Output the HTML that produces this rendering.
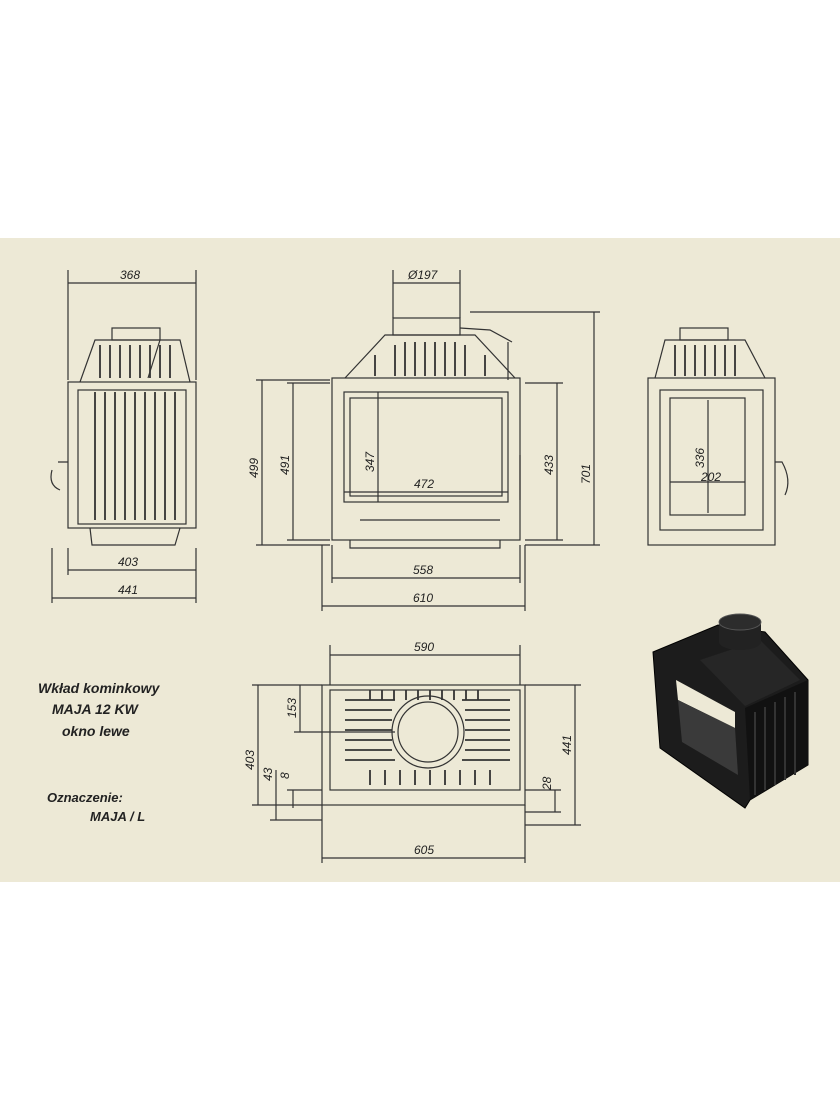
<!DOCTYPE html>
<html><head><meta charset="utf-8"><style>
html,body{margin:0;padding:0;background:#fff;width:840px;height:1120px;overflow:hidden}
svg{display:block}
text{font-family:"Liberation Sans",sans-serif;font-style:italic;fill:#222}
</style></head><body>
<svg width="840" height="1120" viewBox="0 0 840 1120" xmlns="http://www.w3.org/2000/svg">
<rect x="0" y="238" width="840" height="644" fill="#ede9d6"/>
<g stroke="#333" stroke-width="1.2" fill="none">
<!-- LEFT VIEW -->
<rect x="68" y="382" width="128" height="146"/>
<rect x="78" y="390" width="108" height="134"/>
<path d="M80 382 L95 340 L180 340 L190 382"/>
<rect x="112" y="328" width="48" height="12"/>
<g stroke-width="1.8"><path d="M95 392V520M105 392V520M115 392V520M125 392V520M135 392V520M145 392V520M155 392V520M165 392V520M175 392V520"/>
<path d="M100 345V378M110 345V378M120 345V378M130 345V378M140 345V378M150 345V378M160 345V378M170 345V378"/></g>
<path d="M90 528 L92 545 L175 545 L180 528"/>
<path d="M58 462 L68 462 M52 470 Q48 485 60 490"/>
<path d="M160 340 L148 378"/>
<path d="M68 283H196M68 270V380M196 270V380M68 570H196M52 598H196M68 548V575M196 548V603M52 548V603"/>
<!-- FRONT VIEW -->
<rect x="332" y="378" width="188" height="162"/>
<rect x="344" y="392" width="164" height="110"/>
<rect x="350" y="398" width="152" height="98"/>
<path d="M345 378 L385 335 L475 335 L515 378"/>
<rect x="393" y="318" width="67" height="17"/>
<g stroke-width="1.8"><path d="M395 345V376M405 342V376M415 342V376M425 342V376M435 342V376M445 342V376M455 342V376M465 345V376M375 355V376M485 355V376"/></g>
<path d="M460 328 L490 330 L512 342 M508 342V380M520 455V500"/>
<path d="M350 540V548H500V540M360 520H500"/>
<path d="M262 380V545M256 380H330M256 545H330M293 383V540M287 383H330M287 540H330M557 383V540M525 383H563M525 540H563M594 312V545M470 312H600M525 545H600"/>
<path d="M332 578H520M322 606H525M332 545V583M520 545V583M322 545V611M525 545V611M393 283H460M393 270V318M460 270V318"/>
<path d="M378 392V502M344 492H508"/>
<!-- RIGHT VIEW -->
<rect x="648" y="378" width="127" height="167"/>
<rect x="660" y="390" width="103" height="140"/>
<rect x="670" y="398" width="75" height="117"/>
<path d="M655 378 L665 340 L745 340 L765 378"/>
<rect x="680" y="328" width="48" height="12"/>
<g stroke-width="1.8"><path d="M675 345V376M685 345V376M695 345V376M705 345V376M715 345V376M725 345V376M735 345V376"/></g>
<path d="M775 462 L782 462 Q792 480 785 495"/>
<path d="M708 400V513M670 482H745"/>
<!-- PLAN -->
<rect x="322" y="685" width="203" height="120"/>
<rect x="330" y="690" width="190" height="100"/>
<circle cx="428" cy="732" r="36"/>
<circle cx="428" cy="732" r="30"/>
<g stroke-width="1.8"><path d="M345 700H395M345 710H392M345 720H392M345 730H392M345 740H392M345 750H392M345 760H395M462 700H510M465 710H510M465 720H510M465 730H510M465 740H510M465 750H510M462 760H510"/>
<path d="M370 690V700M382 690V700M394 690V700M406 690V700M418 690V700M430 690V700M442 690V700M454 690V700M466 690V700M478 690V700M370 770V785M385 770V785M400 770V785M415 770V785M430 770V785M445 770V785M460 770V785M475 770V785M490 770V785"/></g>
<path d="M330 655H520M330 645V685M520 645V685M322 858H525M322 805V863M525 805V863"/>
<path d="M258 685V805M252 685H322M252 805H322M300 685V732M294 732H395M276 770V820M270 820H322M293 790V808M287 790H322M575 685V825M525 685H581M525 825H581M555 790V812M525 790H561M525 812H561"/>
</g>
<!-- 3D render -->
<path d="M653 652 L718 625 L765 632 L808 680 L808 765 L750 800 L745 808 L660 748 Z" fill="#1c1c1c" stroke="#000"/>
<path d="M745 708 L808 680 L808 765 L750 800 Z" fill="#111"/>
<g stroke="#333" stroke-width="2"><path d="M755 712V795M765 707V790M775 702V785M785 697V780M795 692V775"/></g>
<path d="M676 680 L735 712 L735 728 L678 700 Z" fill="#ede9d6"/>
<path d="M678 700 L735 728 L738 775 L682 742 Z" fill="#3a3a3a"/>
<path d="M700 660 L760 640 L800 680 L745 706 Z" fill="#262626"/>
<rect x="719" y="622" width="42" height="20" fill="#222"/>
<ellipse cx="740" cy="642" rx="21" ry="8" fill="#222"/>
<ellipse cx="740" cy="622" rx="21" ry="8" fill="#2c2c2c" stroke="#555"/>
<g fill="#222" font-size="12">
<text x="120" y="279">368</text>
<text x="408" y="279">Ø197</text>
<text x="118" y="566">403</text>
<text x="118" y="594">441</text>
<text x="413" y="574">558</text>
<text x="413" y="602">610</text>
<text x="414" y="488">472</text>
<text x="701" y="481">202</text>
<text x="414" y="651">590</text>
<text x="414" y="854">605</text>
<text transform="translate(258 478) rotate(-90)">499</text>
<text transform="translate(289 475) rotate(-90)">491</text>
<text transform="translate(374 472) rotate(-90)">347</text>
<text transform="translate(553 475) rotate(-90)">433</text>
<text transform="translate(590 484) rotate(-90)">701</text>
<text transform="translate(704 468) rotate(-90)">336</text>
<text transform="translate(296 718) rotate(-90)">153</text>
<text transform="translate(254 770) rotate(-90)">403</text>
<text transform="translate(272 781) rotate(-90)">43</text>
<text transform="translate(289 779) rotate(-90)">8</text>
<text transform="translate(571 755) rotate(-90)">441</text>
<text transform="translate(551 790) rotate(-90)">28</text>
</g>
<g font-size="14" font-weight="bold">
<text x="38" y="693">Wkład kominkowy</text>
<text x="52" y="714">MAJA 12 KW</text>
<text x="62" y="736">okno lewe</text>
<text x="47" y="802" font-size="13">Oznaczenie:</text>
<text x="90" y="821" font-size="13">MAJA / L</text>
</g>
</svg>
</body></html>
